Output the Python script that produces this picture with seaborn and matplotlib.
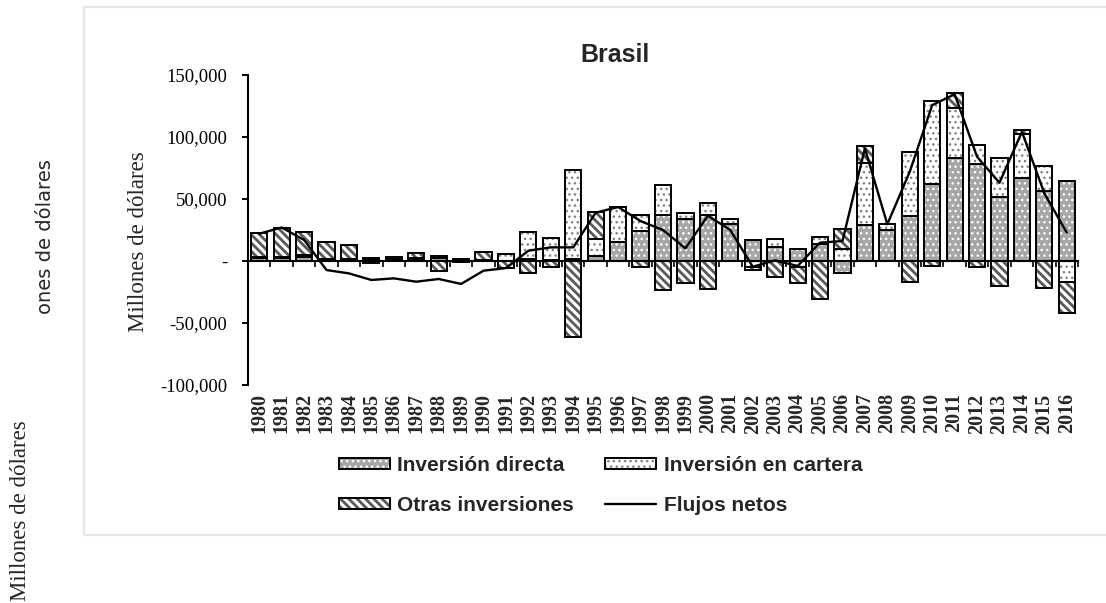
import numpy as np
import matplotlib
matplotlib.use("Agg")
import matplotlib.pyplot as plt
import seaborn as sns
from matplotlib.patches import Patch, Rectangle
from matplotlib.lines import Line2D
from matplotlib.ticker import FuncFormatter, FixedLocator
from matplotlib.font_manager import FontProperties

# ---------------- data (millones de dólares) ----------------
years = list(range(1980, 2017))
directa = [2500, 2500, 3000, 1500, 1500, 1400, 300, 1200, 2800, 700,
           400, 100, 2000, 1000, 2000, 4000, 15600, 24400, 37100, 33600,
           37100, 30000, 17000, 11600, 9700, 13700, -9900, 29000, 25000, 36500,
           61800, 83300, 78200, 51300, 66600, 56700, 64700]
cartera = [500, 1000, 1500, 500, 300, 700, 1500, 1500, 1500, 800,
           500, 5500, 21600, 17800, 71300, 13700, 28200, 12700, 24200, 5400,
           9400, 3600, -4500, 6100, -4900, 5400, 9700, 49700, 4600, 51100,
           67200, 40300, 15300, 31500, 35800, 20100, -17200]
otras = [19300, 23400, 19100, 13300, 11100, -1900, 1700, 4000, -8100, -1000,
         6100, -5900, -9400, -5100, -61500, 22000, 0, -4600, -23400, -17500,
         -22800, 0, -2800, -12600, -13100, -30900, 15800, 14000, 0, -16700,
         -3800, 11600, -4600, -20100, 3200, -22000, -25000]
flujos = [22000, 27000, 17000, -7300, -10000, -15300, -14000, -16700, -14500, -18500,
          -7800, -5700, 8300, 11000, 11000, 39000, 43500, 32200, 25000, 10200,
          36500, 25000, -4600, 500, -4000, 14800, 16100, 90800, 29600, 72000,
          125700, 134500, 84100, 63100, 104200, 54600, 22800]

title = "Brasil"
ylabel = "Millones de dólares"
series_names = ["Inversión directa", "Inversión en cartera", "Otras inversiones", "Flujos netos"]
yticks = [-100000, -50000, 0, 50000, 100000, 150000]

# ---------------- style ----------------
sns.set_style("white")
plt.rcParams['font.family'] = ['Liberation Serif', 'DejaVu Serif']
plt.rcParams['hatch.linewidth'] = 1.0

W, H = 1106, 603
fig = plt.figure(figsize=(W / 100, H / 100), dpi=100)
ax = fig.add_axes([248 / W, (H - 385) / H, (1078 - 248) / W, 310 / H])

cats = [str(y) for y in years]
n = len(cats)

STRIPE = '\\\\\\\\'
STRIPE_LW = 2.0
DOT_LW = 1.0
layers = [
    (directa, '#a6a6a6', 'white', '...', DOT_LW),
    (cartera, 'white', '#808080', '...', DOT_LW),
    (otras, 'white', '#595959', STRIPE, STRIPE_LW),
]


def set_hlw(p, hlw):
    try:
        p.set_hatch_linewidth(hlw)
    except AttributeError:
        pass


pos = np.zeros(n)
neg = np.zeros(n)
for vals, fc, hc, hatch, hlw in layers:
    v = np.array(vals, dtype=float)
    bottom = np.where(v >= 0, pos, neg)
    plt.rcParams['hatch.linewidth'] = hlw
    sns.barplot(x=cats, y=v, bottom=bottom, order=cats, color=fc, saturation=1,
                width=0.72, errorbar=None, ax=ax, linewidth=0, edgecolor=hc,
                hatch=hatch)
    for p in ax.containers[-1]:
        set_hlw(p, hlw)
    sns.barplot(x=cats, y=v, bottom=bottom, order=cats, color='black', saturation=1,
                width=0.72, errorbar=None, ax=ax, facecolor='none',
                edgecolor='black', linewidth=1.4)
    pos += np.where(v >= 0, v, 0)
    neg += np.where(v < 0, v, 0)

sns.lineplot(x=np.arange(n), y=flujos, color='black', linewidth=1.7, ax=ax,
             zorder=4)

# ---------------- axes ----------------
ax.set_xlim(-0.5, n - 0.5)
ax.set_ylim(yticks[0], yticks[-1])
ax.yaxis.set_major_locator(FixedLocator(yticks))
ax.yaxis.set_major_formatter(FuncFormatter(lambda v, p: '-' if v == 0 else f"{v:,.0f}"))
ax.tick_params(axis='y', which='major', direction='out', length=4, width=1.4,
               labelsize=13.5, pad=11, left=True, colors='black')
for s in ['top', 'right']:
    ax.spines[s].set_visible(False)
ax.spines['left'].set_linewidth(1.5)
ax.spines['left'].set_color('black')
ax.spines['bottom'].set_position(('data', 0))
ax.spines['bottom'].set_linewidth(1.5)
ax.spines['bottom'].set_color('black')
ax.spines['bottom'].set_zorder(5)
ax.xaxis.set_minor_locator(FixedLocator(np.arange(n + 1) - 0.5))
ax.tick_params(axis='x', which='major', length=0, labelbottom=False, bottom=False)
ax.tick_params(axis='x', which='minor', direction='out', length=4, width=1.2,
               bottom=True, colors='black')
ax.set_xlabel('')
ax.set_ylabel('')

sec = ax.secondary_xaxis('bottom')
sec.set_xticks(np.arange(n))
sec.set_xticklabels(cats, rotation=90, fontweight='bold', fontsize=14.5)
sec.tick_params(length=0, pad=6)
sec.spines['bottom'].set_visible(False)

# ---------------- texts ----------------
fig.text(615 / W, 1 - 55 / H, title, ha='center', va='center', fontsize=18,
         fontweight='bold', family=['Liberation Sans', 'DejaVu Sans'])
fig.text(138 / W, 1 - 242 / H, ylabel, rotation=90, ha='center', va='center',
         fontsize=16.5)
fig.text(46 / W, 1 - 237 / H, 'ones de dólares', rotation=90, ha='center',
         va='center', fontsize=14, family=['DejaVu Sans'])
fig.text(21 / W, 1 - 511 / H, ylabel, rotation=90, ha='center', va='center',
         fontsize=16.5)

# border
fig.patches.append(Rectangle((84 / W, (H - 535) / H), 1.2, 528 / H,
                             transform=fig.transFigure, fill=False,
                             edgecolor='#e3e6ea', linewidth=1.6))

# ---------------- legend ----------------
plt.rcParams['hatch.linewidth'] = DOT_LW


def hatch_handle(fc, hc, hatch):
    p = Patch(facecolor=fc, edgecolor=hc, hatch=hatch, linewidth=0)
    return (p, Patch(facecolor='none', edgecolor='black', linewidth=1.4))


h_dir = hatch_handle('#a6a6a6', 'white', '...')
h_car = hatch_handle('white', '#808080', '...')
h_otr = hatch_handle('white', '#595959', STRIPE)
h_net = Line2D([], [], color='black', linewidth=1.7)

leg = fig.legend([h_dir, h_otr, h_car, h_net],
                 [series_names[0], series_names[2], series_names[1], series_names[3]],
                 ncol=2, loc='upper left', bbox_to_anchor=(339 / W, 1 - 456 / H),
                 bbox_transform=fig.transFigure, frameon=False,
                 prop=FontProperties(family='Liberation Sans', weight='bold', size=15),
                 handlelength=2.45, handleheight=0.45, handletextpad=0.35,
                 columnspacing=1.5, labelspacing=1.0, borderpad=0, borderaxespad=0)
for art, hlw in zip(leg.legend_handles[:3], [DOT_LW, STRIPE_LW, DOT_LW]):
    set_hlw(art, hlw)

fig.savefig('out.png', dpi=100)
